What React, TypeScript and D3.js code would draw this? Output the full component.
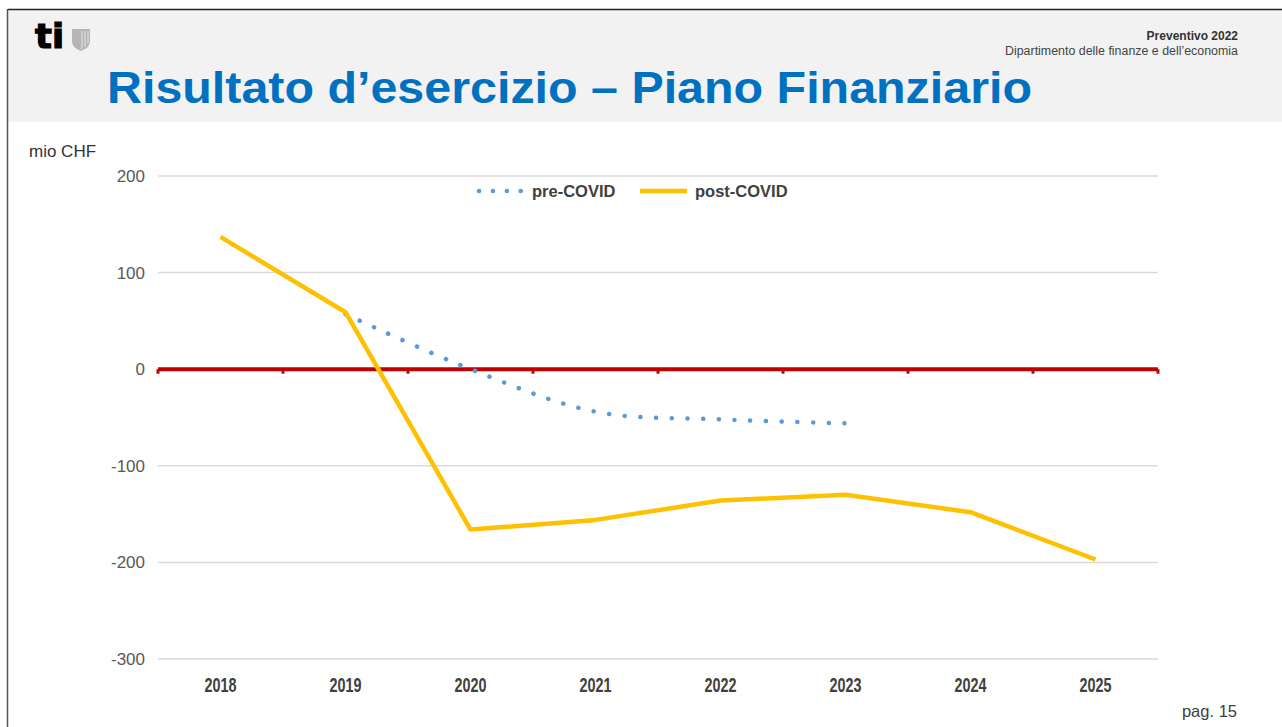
import React from "react";
import * as d3 from "d3";

const years = ["2018", "2019", "2020", "2021", "2022", "2023", "2024", "2025"];
const postCovid = [137, 59, -166, -156, -136, -130, -148, -197];
const preCovidYears = ["2019", "2020", "2021", "2022", "2023"];
const preCovid = [57, 0, -44, -52, -56];
const yTicks = [200, 100, 0, -100, -200, -300];

const W = 1282;
const H = 727;
const M = { left: 158, right: 1158, top: 176, bottom: 659 };

export default function App() {
  const x = d3.scaleBand<string>().domain(years).range([M.left, M.right]);
  const y = d3.scaleLinear().domain([-300, 200]).range([M.bottom, M.top]);
  const cx = (yr: string) => (x(yr) as number) + x.bandwidth() / 2;

  const postLine = d3
    .line<number>()
    .x((_, i) => cx(years[i]))
    .y((d) => y(d))(postCovid) as string;

  const preLine = d3
    .line<number>()
    .curve(d3.curveCatmullRom.alpha(0.5))
    .x((_, i) => cx(preCovidYears[i]))
    .y((d) => y(d))(preCovid) as string;

  const boundaries = years.map((yr) => x(yr) as number).concat([M.right]);

  return (
    <svg
      width={W}
      height={H}
      style={{ position: "absolute", left: 0, top: 0, background: "#fff" }}
      fontFamily="Liberation Sans, Arial, sans-serif"
    >
      {/* header */}
      <rect x={8} y={10} width={W - 8} height={112} fill="#f2f2f2" />
      <line x1={8} x2={W} y1={9.5} y2={9.5} stroke="#222" strokeWidth={1.5} />
      <line x1={7.5} x2={7.5} y1={9} y2={H} stroke="#555" strokeWidth={1.5} />

      {/* logo */}
      <text
        x={35}
        y={48}
        fontSize={33}
        fontWeight="bold"
        fill="#000"
        stroke="#000"
        strokeWidth={1.2}
        fontFamily="DejaVu Sans, sans-serif"
        textLength={29}
        lengthAdjust="spacingAndGlyphs"
      >
        ti
      </text>
      <path d="M72,29 h18 v12 q0,7 -9,10 q-9,-3 -9,-10 z" fill="#b5b5b5" />
      <path d="M82,31 v18 M85,31 v16 M88,31 v12" stroke="#e6e6e6" strokeWidth={1} />

      <text x={1238} y={40} fontSize={12} fontWeight="bold" fill="#333" textAnchor="end">
        Preventivo 2022
      </text>
      <text
        x={1238}
        y={55}
        fontSize={12}
        fill="#444"
        textAnchor="end"
        textLength={233}
        lengthAdjust="spacingAndGlyphs"
      >
        Dipartimento delle finanze e dell’economia
      </text>

      <text
        x={107}
        y={103}
        fontSize={45}
        fontWeight="bold"
        fill="#0070c0"
        textLength={925}
        lengthAdjust="spacingAndGlyphs"
      >
        Risultato d’esercizio – Piano Finanziario
      </text>

      {/* unit */}
      <text x={29} y={157} fontSize={17} fill="#333">
        mio CHF
      </text>

      {/* gridlines */}
      {yTicks.map((t) => (
        <g key={t}>
          {t !== 0 && (
            <line x1={M.left} x2={M.right} y1={y(t)} y2={y(t)} stroke="#d9d9d9" strokeWidth={1.5} />
          )}
          <text x={145} y={y(t) + 6} fontSize={17} fill="#595959" textAnchor="end">
            {t}
          </text>
        </g>
      ))}

      {/* zero line */}
      <line x1={M.left} x2={M.right} y1={y(0)} y2={y(0)} stroke="#c00000" strokeWidth={4} />
      {boundaries.map((b, i) => (
        <rect key={i} x={b - 1.5} y={y(0)} width={3} height={4.5} fill="#c00000" />
      ))}

      {/* x labels */}
      {years.map((yr) => (
        <text
          key={yr}
          x={cx(yr) - 16}
          y={692}
          fontSize={20}
          fontWeight="bold"
          fill="#404040"
          textLength={32}
          lengthAdjust="spacingAndGlyphs"
        >
          {yr}
        </text>
      ))}

      {/* series */}
      <path d={preLine} fill="none" stroke="#5b9bd5" strokeWidth={4.5} strokeLinecap="round" strokeDasharray="0.1 15.6" />
      <path d={postLine} fill="none" stroke="#ffc000" strokeWidth={4.5} strokeLinejoin="round" />

      {/* legend */}
      <line x1={479} x2={521} y1={191} y2={191} stroke="#5b9bd5" strokeWidth={4.5} strokeLinecap="round" strokeDasharray="0.1 13.8" />
      <text x={532} y={197} fontSize={16.5} fontWeight="bold" fill="#404040">
        pre-COVID
      </text>
      <line x1={640} x2={687} y1={191} y2={191} stroke="#ffc000" strokeWidth={4.5} />
      <text x={695} y={197} fontSize={16.5} fontWeight="bold" fill="#404040">
        post-COVID
      </text>

      <text x={1237} y={717} fontSize={16.5} fill="#404040" textAnchor="end">
        pag. 15
      </text>
    </svg>
  );
}
